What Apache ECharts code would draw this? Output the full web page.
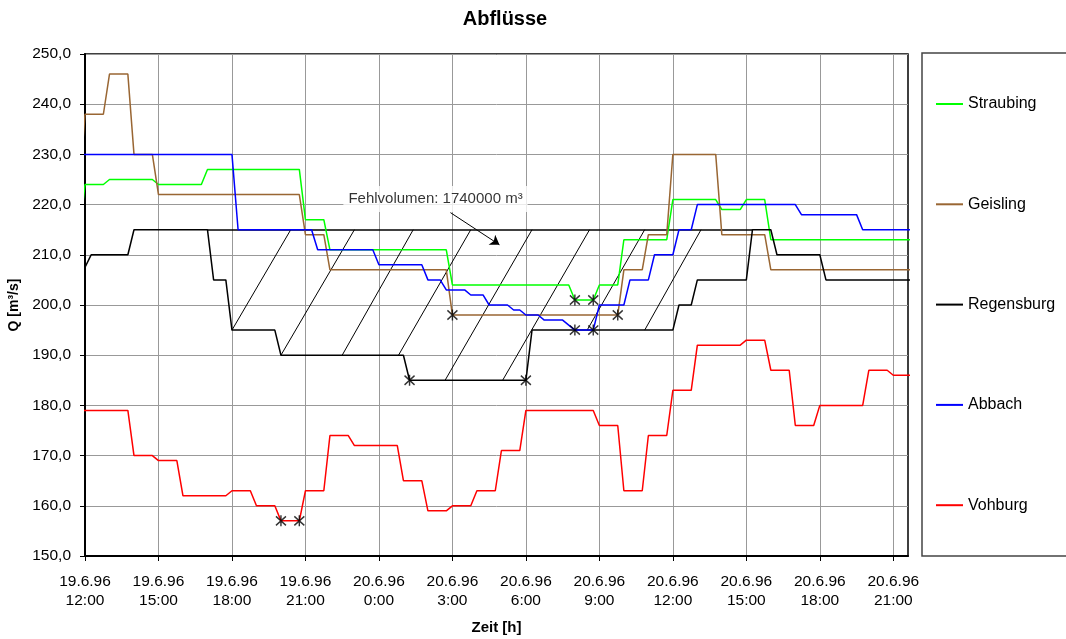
<!DOCTYPE html>
<html><head><meta charset="utf-8">
<script src="https://cdn.jsdelivr.net/npm/echarts@6/dist/echarts.min.js"></script>
<style>html,body{margin:0;padding:0;background:#fff}#c{width:1066px;height:639px}</style>
</head><body><div id="c"></div>
<script>
// time axis: hours after 19.6.96 12:00
const tickLabels = ['19.6.96\n12:00','19.6.96\n15:00','19.6.96\n18:00','19.6.96\n21:00','20.6.96\n0:00','20.6.96\n3:00','20.6.96\n6:00','20.6.96\n9:00','20.6.96\n12:00','20.6.96\n15:00','20.6.96\n18:00','20.6.96\n21:00'];
const tickHours = [0,3,6,9,12,15,18,21,24,27,30,33];

const seriesNames = ['Straubing','Geisling','Regensburg','Abbach','Vohburg'];

const straubingT = [-0.25,0,0.75,1.0,2.75,3.0,4.75,5.0,8.75,9.0,9.75,10.0,14.75,15.0,19.75,20.0,20.75,21.0,21.75,22.0,23.75,24.0,25.75,26.0,26.75,27.0,27.75,28.0,33.8];
const straubingV = [213,224,224,225,225,224,224,227,227,217,217,211,211,204,204,201,201,204,204,213,213,221,221,219,219,221,221,213,213];

const geislingT = [-0.25,0,0.75,1.0,1.75,2.0,2.75,3.0,8.75,9.0,9.75,10.0,14.75,15.0,21.75,22.0,22.75,23.0,23.75,24.0,25.75,26.0,27.75,28.0,33.8];
const geislingV = [222,238,238,246,246,230,230,222,222,214,214,207,207,198,198,207,207,214,214,230,230,214,214,207,207];

const regensburgT = [-0.25,0.25,1.75,2.0,5.0,5.25,5.75,6.0,7.75,8.0,13.0,13.25,18.0,18.25,24.0,24.25,24.75,25.0,27.0,27.25,28.0,28.25,30.0,30.25,33.8];
const regensburgV = [205,210,210,215,215,205,205,195,195,190,190,185,185,195,195,200,200,205,205,215,215,210,210,205,205];

const abbachT = [-0.25,6.0,6.25,9.25,9.5,11.75,12.0,13.75,14.0,14.5,14.75,15.5,15.75,16.25,16.5,17.25,17.5,17.75,18.0,18.5,18.75,19.5,19.75,20.0,20.75,21.0,22.0,22.25,23.0,23.25,24.0,24.25,24.75,25.0,29.0,29.25,31.5,31.75,33.75,33.83];
const abbachV = [230,230,215,215,211,211,208,208,205,205,203,203,202,202,200,200,199,199,198,198,197,197,196,195,195,200,200,205,205,210,210,215,215,220,220,218,218,215,215,214];

const vohburgT = [-0.25,1.75,2.0,2.75,3.0,3.75,4.0,5.75,6.0,6.75,7.0,7.75,8.0,8.75,9.0,9.75,10.0,10.75,11.0,12.75,13.0,13.75,14.0,14.75,15.0,15.75,16.0,16.75,17.0,17.75,18.0,20.75,21.0,21.75,22.0,22.75,23.0,23.75,24.0,24.75,25.0,26.75,27.0,27.75,28.0,28.75,29.0,29.75,30.0,31.75,32.0,32.75,33.0,33.8];
const vohburgV = [179,179,170,170,169,169,162,162,163,163,160,160,157,157,163,163,174,174,172,172,165,165,159,159,160,160,163,163,171,171,179,179,176,176,163,163,174,174,183,183,192,192,193,193,187,187,176,176,180,180,187,187,186,186];

// marked points (asterisks)
const markerT = [8.0,8.75,13.25,18.0,15.0,21.75,20.0,20.75,20.0,20.75];
const markerV = [157,157,185,185,198,198,201,201,195,195];

// Fehlvolumen hatching
const baseT = [5.0,27.25];
const baseV = 215;
const hatchStartT = [6.0,8.0,10.5,12.8,14.7,17.05,20.5,22.85];
const hatchStartV = [195,190,190,190,185,185,195,195];
const hatchEndT = [8.4,11.0,13.4,15.75,18.25,20.6,22.85,25.15];
const hatchEndV = 215;

const noteText = 'Fehlvolumen: 1740000 m³';
const noteT = 14.31, noteV = 221.1;
const arrowT = [14.92,16.92];
const arrowV = [218.4,212.0];

const FONT = '"Liberation Sans", Arial, sans-serif';
const colors = {Straubing:'#00ff00',Geisling:'#996633',Regensburg:'#000000',Abbach:'#0000ff',Vohburg:'#ff0000'};
const seriesData = {
  Straubing:[straubingT,straubingV], Geisling:[geislingT,geislingV], Regensburg:[regensburgT,regensburgV],
  Abbach:[abbachT,abbachV], Vohburg:[vohburgT,vohburgV]
};

const chart = echarts.init(document.getElementById('c'), null, {renderer:'canvas'});

const lineSeries = seriesNames.map(n => ({
  name: n, type: 'line', symbol: 'none', showSymbol: false, clip: false, z: 3,
  data: seriesData[n][0].map((t,i) => [t, seriesData[n][1][i]]),
  lineStyle: {color: colors[n], width: 1.5},
  itemStyle: {color: colors[n]},
  animation: false
}));

const option = {
  animation: false,
  backgroundColor: '#fff',
  title: {text: 'Abflüsse', left: 505, top: 9, textAlign: 'center', padding: 0,
    textStyle: {fontFamily: FONT, fontSize: 20, fontWeight: 'bold', color: '#000'}},
  grid: {left: 85, right: 158, top: 54, bottom: 83, show: true, borderColor: '#000', borderWidth: 1.5,
    containLabel: false, outerBoundsMode: 'none'},
  legend: {
    orient: 'vertical', left: 922, top: 53,
    data: seriesNames.map(n => ({name: n, icon: 'rect', itemStyle: {color: colors[n], borderWidth: 0}})),
    itemWidth: 27, itemHeight: 2, itemGap: 84.3, itemTextGap: 11,
    padding: [43, 40, 42.7, 14],
    borderColor: '#444', borderWidth: 1.5,
    textStyle: {fontFamily: FONT, fontSize: 16, color: '#000'}
  },
  xAxis: {
    type: 'value', min: 0, max: 33.6, interval: 3,
    name: 'Zeit [h]', nameLocation: 'middle', nameGap: 64,
    nameTextStyle: {fontFamily: FONT, fontSize: 15, fontWeight: 'bold', color: '#000'},
    axisLine: {onZero: false, lineStyle: {color: '#000', width: 2}},
    axisTick: {show: true, length: 5, lineStyle: {color: '#000'}, customValues: tickHours},
    axisLabel: {customValues: tickHours, margin: 16, lineHeight: 19, fontFamily: FONT, fontSize: 15.5, color: '#000',
      formatter: v => { const i = tickHours.indexOf(Math.round(v)); return (Math.abs(v - Math.round(v)) < 1e-6 && i >= 0) ? tickLabels[i] : ''; }},
    splitLine: {show: true, lineStyle: {color: '#999', width: 1}}
  },
  yAxis: {
    type: 'value', min: 150, max: 250, interval: 10,
    name: 'Q [m³/s]', nameLocation: 'middle', nameGap: 49, nameRotate: 90,
    nameTextStyle: {fontFamily: FONT, fontSize: 14, fontWeight: 'bold', color: '#000'},
    axisLine: {show: true, lineStyle: {color: '#000', width: 2}},
    axisTick: {show: true, length: 5, lineStyle: {color: '#000'}},
    axisLabel: {margin: 14, fontFamily: FONT, fontSize: 15.5, color: '#000',
      formatter: v => v.toFixed(1).replace('.', ',')},
    splitLine: {show: true, lineStyle: {color: '#999', width: 1}}
  },
  series: [
    {type: 'lines', coordinateSystem: 'cartesian2d', polyline: false, silent: true, z: 2,
      lineStyle: {color: '#000', width: 1, opacity: 1, curveness: 0},
      data: hatchStartT.map((t,i) => ({coords: [[t, hatchStartV[i]], [hatchEndT[i], hatchEndV]]}))},
    {type: 'lines', coordinateSystem: 'cartesian2d', polyline: false, silent: true, z: 2,
      lineStyle: {color: '#000', width: 1.5, opacity: 1, curveness: 0},
      data: [{coords: [[baseT[0], baseV], [baseT[1], baseV]]}]},
    ...lineSeries,
    {type: 'scatter', silent: true, z: 5,
      symbol: 'path://M0,0L10,10M10,0L0,10M5,-1L5,11', symbolSize: [10, 11],
      itemStyle: {color: 'rgba(0,0,0,0)', borderColor: '#000', borderWidth: 1.5},
      data: markerT.map((t,i) => [t, markerV[i]])},
    {type: 'lines', coordinateSystem: 'cartesian2d', polyline: false, silent: true, z: 6,
      symbol: ['none', 'arrow'], symbolSize: 9,
      lineStyle: {color: '#000', width: 1, opacity: 1, curveness: 0},
      data: [{coords: [[arrowT[0], arrowV[0]], [arrowT[1], arrowV[1]]]}]},
    {type: 'scatter', silent: true, z: 7, symbol: 'rect', symbolSize: 1,
      itemStyle: {color: 'rgba(0,0,0,0)'},
      label: {show: true, position: 'inside', formatter: noteText, backgroundColor: '#fff',
        padding: [6, 5, 5, 5], color: '#000', fontFamily: FONT, fontSize: 15},
      data: [[noteT, noteV]]}
  ]
};
chart.setOption(option);
</script>
</body></html>
